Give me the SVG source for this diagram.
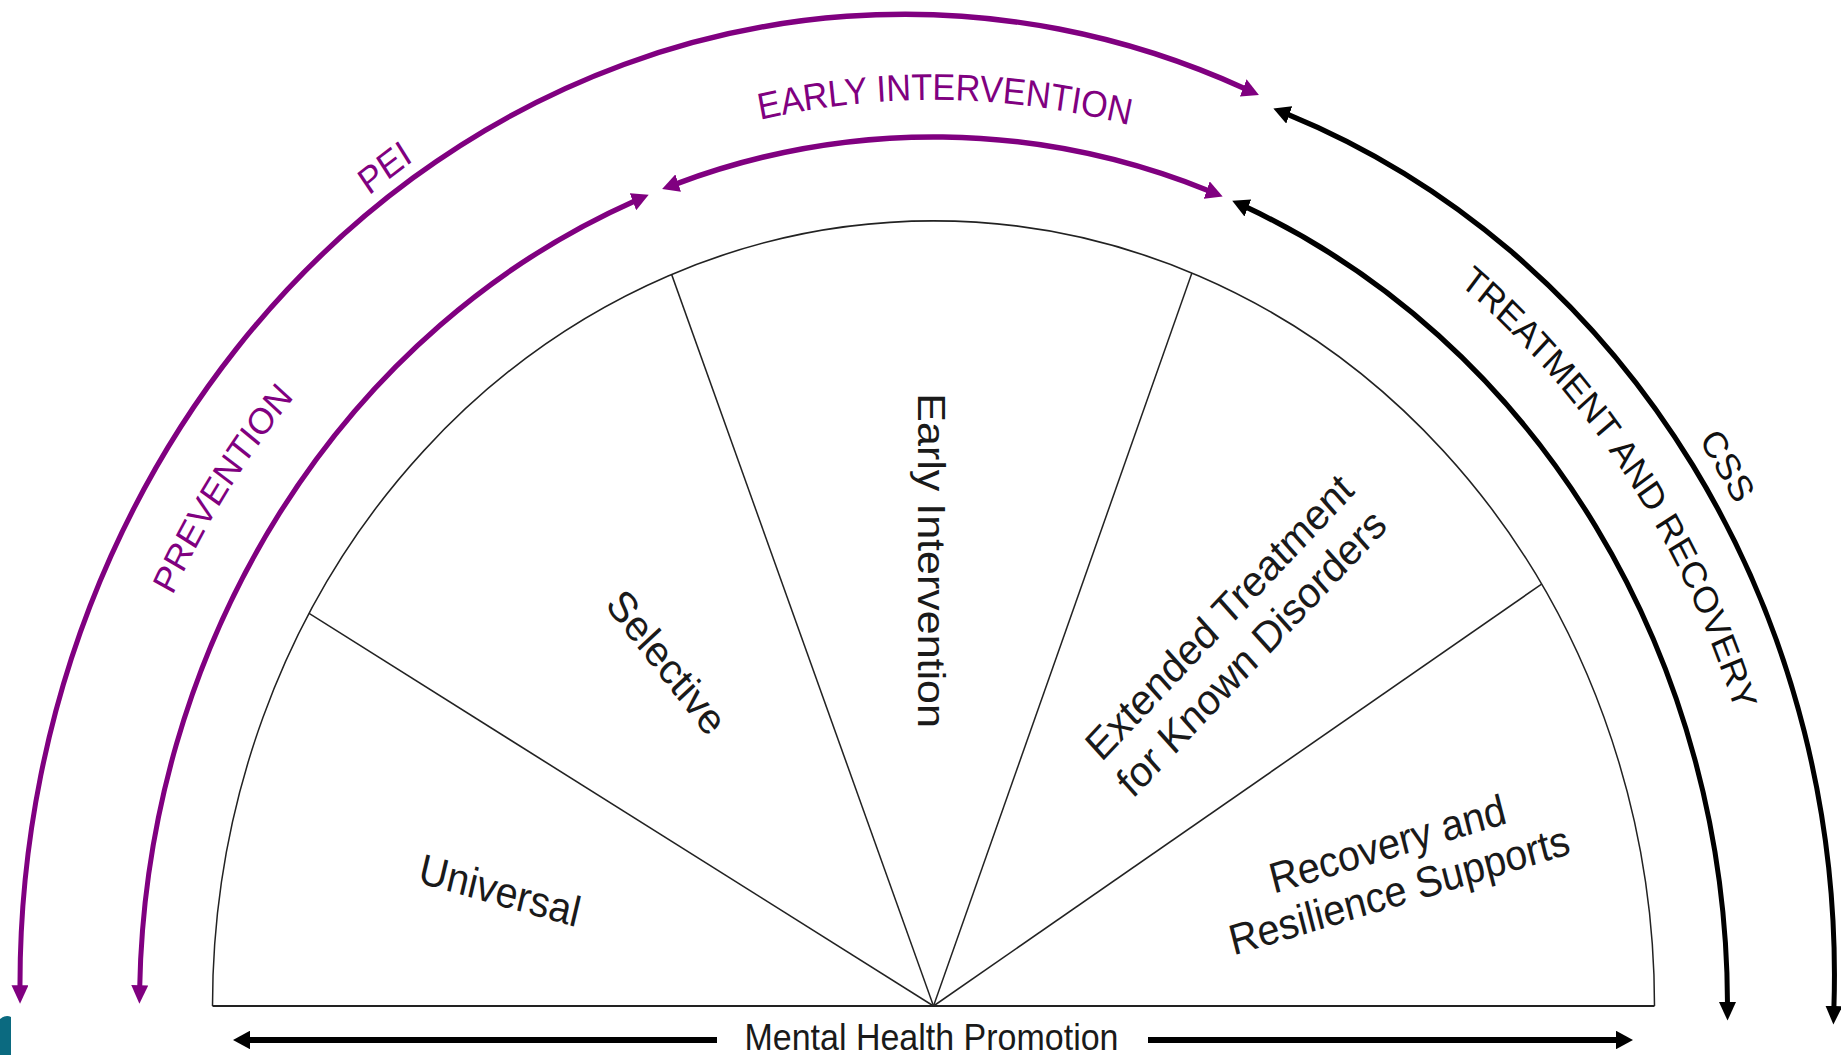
<svg xmlns="http://www.w3.org/2000/svg" width="1841" height="1055" viewBox="0 0 1841 1055">
<style>
.pa{fill:none;stroke:#800080;stroke-width:5}
.ba{fill:none;stroke:#000;stroke-width:5}
.fan{fill:none;stroke:#222;stroke-width:1.5}
.lbl{font-family:"Liberation Sans",Arial,sans-serif}
.cap{font-size:34.2px;text-anchor:middle}
.pt{fill:#800080}
.bt{fill:#111}
.sec{font-size:39.5px;fill:#1a1a1a;text-anchor:middle}
</style>
<defs>
<marker id="mp" viewBox="0 0 17 17" refX="2" refY="8.5" markerWidth="17" markerHeight="17" markerUnits="userSpaceOnUse" orient="auto-start-reverse"><path d="M0,0L17,8.5L0,17z" fill="#800080"/></marker>
<marker id="mb" viewBox="0 0 17 17" refX="2" refY="8.5" markerWidth="17" markerHeight="17" markerUnits="userSpaceOnUse" orient="auto-start-reverse"><path d="M0,0L17,8.5L0,17z" fill="#000"/></marker>
<path id="tpPEI" d="M-0.5,1006 A934 934 0 0 1 1867.5,1006"/>
<path id="tpCSS" d="M8.5,1006 A925 925 0 0 1 1858.5,1006"/>
<path id="tpPRE" d="M84.5,1006 A849 849 0 0 1 1782.5,1006"/>
<path id="tpEI" d="M101.5,1006 A832 832 0 0 1 1765.5,1006"/>
<path id="tpTR" d="M87.5,1006 A846 846 0 0 1 1779.5,1006"/>
</defs>
<rect width="1841" height="1055" fill="#fff"/>
<g transform="matrix(1 0 0 1.089 0 -89.534)">
  <g id="fan">
    <path class="fan" d="M212.5,1006 A721 721 0 0 1 1654.5,1006"/>
    <line class="fan" x1="212.5" y1="1006" x2="1654.5" y2="1006" style="stroke-width:2"/>
    <line class="fan" x1="933.5" y1="1006" x2="309.1" y2="645.5"/>
    <line class="fan" x1="933.5" y1="1006" x2="671.6" y2="334.2"/>
    <line class="fan" x1="933.5" y1="1006" x2="1191.9" y2="332.9"/>
    <line class="fan" x1="933.5" y1="1006" x2="1541.6" y2="618.6"/>
  </g>
  <g id="sector-universal"><text class="lbl sec" transform="translate(500,899.5) rotate(14.5)" y="14">Universal</text></g>
  <g id="sector-selective"><text class="lbl sec" transform="translate(667,690) rotate(49.5)" y="14">Selective</text></g>
  <g id="sector-early"><text class="lbl sec" transform="translate(932,597) rotate(90)" y="14">Early Intervention</text></g>
  <g id="sector-extended"><text class="lbl sec" transform="translate(1235,665) rotate(-44.3)"><tspan x="0" y="-9">Extended Treatment</tspan><tspan x="0" y="37">for Known Disorders</tspan></text></g>
  <g id="sector-recovery"><text class="lbl sec" transform="translate(1393.2,878.1) rotate(-15.5)"><tspan x="0" y="-8">Recovery and</tspan><tspan x="0" y="36">Resilience Supports</tspan></text></g>

  <g id="connectors">
    <path id="arc-pei" class="pa" d="M20,989 A885 891 0 0 1 1245.1,163.7" marker-start="url(#mp)" marker-end="url(#mp)"/>
    <path id="arc-prevention" class="pa" d="M139.7,989 A794 798 0 0 1 634.8,266.7" marker-start="url(#mp)" marker-end="url(#mp)"/>
    <path id="arc-early" class="pa" d="M676.3,251 A794 798 0 0 1 1208.6,257.4" marker-start="url(#mp)" marker-end="url(#mp)"/>
    <path id="arc-treatment" class="ba" d="M1246,272.4 A794 798 0 0 1 1727.5,1004.4" marker-start="url(#mb)" marker-end="url(#mb)"/>
    <path id="arc-css" class="ba" d="M1287.4,187.1 A845 845 0 0 1 1833.9,1008" marker-start="url(#mb)" marker-end="url(#mb)"/>
    <path id="promo-left" class="ba" d="M717,1037.2 L248,1037.2" style="stroke-width:5.5" marker-end="url(#mb)"/>
    <path id="promo-right" class="ba" d="M1148,1037.2 L1618,1037.2" style="stroke-width:5.5" marker-end="url(#mb)"/>
  </g>

  <g id="label-pei"><text class="lbl cap pt"><textPath href="#tpPEI" startOffset="30.28%">PEI</textPath></text></g>
  <g id="label-prevention"><text class="lbl cap pt" style="font-size:33.8px"><textPath href="#tpPRE" startOffset="18.75%">PREVENTION</textPath></text></g>
  <g id="label-early"><text class="lbl cap pt"><textPath href="#tpEI" startOffset="50.44%">EARLY INTERVENTION</textPath></text></g>
  <g id="label-treatment"><text class="lbl cap bt"><textPath href="#tpTR" startOffset="80.5%">TREATMENT AND RECOVERY</textPath></text></g>
  <g id="label-css"><text class="lbl cap bt"><textPath href="#tpCSS" startOffset="82.22%">CSS</textPath></text></g>
  <g id="label-promotion"><text class="lbl" x="931.5" y="1046.4" style="font-size:34px;fill:#1a1a1a;text-anchor:middle">Mental Health Promotion</text></g>
</g>
<path id="corner" d="M0,1019 Q6,1014 11,1017 L11,1055 L0,1055 Z" fill="#0b6a80"/>
</svg>
